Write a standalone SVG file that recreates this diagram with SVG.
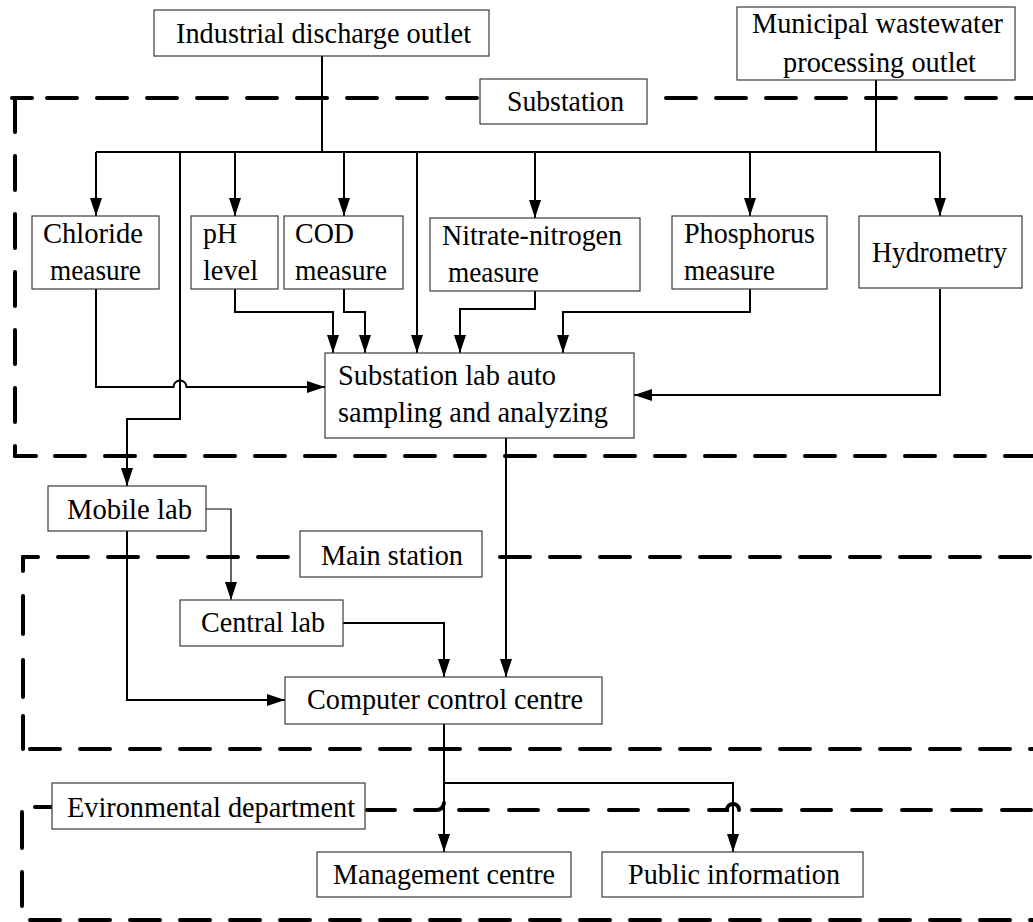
<svg xmlns="http://www.w3.org/2000/svg" width="1033" height="922" viewBox="0 0 1033 922">
  <style>
    .box { fill: #fff; stroke: #3a3a3a; stroke-width: 1.2; }
    .lbl { font-family: "Liberation Serif", "Times New Roman", serif; font-size: 30px; fill: #000; }
    .zone { fill: none; stroke: #000; stroke-width: 4; stroke-linecap: round; stroke-dasharray: 30 20; }
    .zonev { fill: none; stroke: #000; stroke-width: 4; stroke-linecap: round; stroke-dasharray: 34 24; }
    .hop { fill: none; stroke: #000; stroke-width: 4; stroke-linecap: round; }
    .wire { fill: none; stroke: #000; stroke-width: 2; marker-end: url(#tip); }
    .line { fill: none; stroke: #000; stroke-width: 2; }
    .thin { fill: none; stroke: #000; stroke-width: 1.2; marker-end: url(#tip); }
  </style>
  <defs>
    <marker id="tip" markerUnits="userSpaceOnUse" markerWidth="18" markerHeight="12" viewBox="0 0 18 12" refX="18" refY="6" orient="auto">
      <path d="M0 0 L18 6 L0 12 Z" fill="#000"/>
    </marker>
  </defs>

  <!-- zone boundaries -->
  <g id="zones">
    <!-- substation -->
    <path class="hop" d="M12 98 H32"/>
    <path class="zone" d="M47 98 H480"/>
    <path class="zone" d="M666 98 H1040"/>
    <path class="zonev" d="M15 98 V456"/>
    <path class="hop" d="M15 456 H36"/>
    <path class="zone" d="M55 456 H1040"/>

    <!-- main station -->
    <path class="hop" d="M23 557 H38"/>
    <path class="zone" d="M58 557 H300"/>
    <path class="zone" d="M500 557 H1040"/>
    <path class="zonev" d="M23 557 V749" style="stroke-dasharray:14 25 38 26 37 19 35"/>
    <path class="zone" d="M30 749 H1040"/>

    <!-- environmental department -->
    <path class="hop" d="M35 807 H52"/>
    <path class="hop" d="M367 810 H395"/>
    <path class="hop" d="M415 810 H436 Q443 810 444 803"/>
    <path class="zone" d="M459 810 H700" style="stroke-dasharray:29 21"/>
    <path class="hop" d="M709 810 H727 A6 6 0 0 1 739 810"/>
    <path class="zone" d="M752 810 H1040" style="stroke-dasharray:29 21"/>
    <path class="zonev" d="M22 812 V920" style="stroke-dasharray:36 24 34 100"/>
    <path class="zone" d="M30 920 H1040"/>
  </g>

  <!-- connectors -->
  <g id="connectors">
    <path class="line" d="M322 56 V152"/>
    <path class="line" d="M876 80 V152"/>
    <path class="line" d="M96 152 H940"/>
    <path class="wire" d="M96 152 V216"/>
    <path class="wire" d="M235 152 V216"/>
    <path class="wire" d="M344 152 V216"/>
    <path class="wire" d="M535 152 V218"/>
    <path class="wire" d="M750 152 V216"/>
    <path class="wire" d="M940 152 V216"/>
    <path class="wire" d="M417 152 V353"/>

    <path class="wire" d="M96 289 V387 H173.5 A6.5 6.5 0 0 1 186.5 387 H325"/>
    <path class="wire" d="M235 289 V312 H333 V353"/>
    <path class="wire" d="M344 289 V312 H365 V353"/>
    <path class="wire" d="M535 291 V309 H460 V353"/>
    <path class="wire" d="M750 289 V312 H563 V353"/>
    <path class="wire" d="M940 289 V395 H634"/>

    <path class="wire" d="M180 152 V419 H127 V486"/>
    <path class="wire" d="M506 438 V677"/>

    <path class="thin" d="M206 509 H231 V600"/>
    <path class="wire" d="M127 531 V700 H285"/>
    <path class="wire" d="M343 623 H444 V677"/>

    <path class="wire" d="M444 724 V852"/>
    <path class="wire" d="M444 783 H733 V852"/>
  </g>

  <!-- nodes -->
  <g id="industrial">
    <rect class="box" x="154" y="10" width="335" height="46"/>
    <text class="lbl" x="176" y="43" textLength="295" lengthAdjust="spacingAndGlyphs">Industrial discharge outlet</text>
  </g>
  <g id="municipal">
    <rect class="box" x="737" y="7" width="278" height="73"/>
    <text class="lbl" x="752" y="33" textLength="251" lengthAdjust="spacingAndGlyphs">Municipal wastewater</text>
    <text class="lbl" x="783" y="72" textLength="193" lengthAdjust="spacingAndGlyphs">processing outlet</text>
  </g>
  <g id="substation-label">
    <rect class="box" x="480" y="79" width="167" height="45"/>
    <text class="lbl" x="507" y="111" textLength="117" lengthAdjust="spacingAndGlyphs">Substation</text>
  </g>
  <g id="chloride">
    <rect class="box" x="32" y="216" width="127" height="73"/>
    <text class="lbl" x="43" y="243" textLength="100" lengthAdjust="spacingAndGlyphs">Chloride</text>
    <text class="lbl" x="50" y="280" textLength="91" lengthAdjust="spacingAndGlyphs">measure</text>
  </g>
  <g id="ph">
    <rect class="box" x="191" y="216" width="87" height="73"/>
    <text class="lbl" x="203" y="243" textLength="34" lengthAdjust="spacingAndGlyphs">pH</text>
    <text class="lbl" x="203" y="280" textLength="55" lengthAdjust="spacingAndGlyphs">level</text>
  </g>
  <g id="cod">
    <rect class="box" x="284" y="216" width="119" height="73"/>
    <text class="lbl" x="295" y="243" textLength="59" lengthAdjust="spacingAndGlyphs">COD</text>
    <text class="lbl" x="295" y="280" textLength="92" lengthAdjust="spacingAndGlyphs">measure</text>
  </g>
  <g id="nitrate">
    <rect class="box" x="430" y="218" width="210" height="73"/>
    <text class="lbl" x="442" y="245" textLength="180" lengthAdjust="spacingAndGlyphs">Nitrate-nitrogen</text>
    <text class="lbl" x="448" y="282" textLength="91" lengthAdjust="spacingAndGlyphs">measure</text>
  </g>
  <g id="phosphorus">
    <rect class="box" x="672" y="216" width="155" height="73"/>
    <text class="lbl" x="684" y="243" textLength="131" lengthAdjust="spacingAndGlyphs">Phosphorus</text>
    <text class="lbl" x="684" y="280" textLength="91" lengthAdjust="spacingAndGlyphs">measure</text>
  </g>
  <g id="hydrometry">
    <rect class="box" x="859" y="216" width="163" height="72"/>
    <text class="lbl" x="872" y="262" textLength="135" lengthAdjust="spacingAndGlyphs">Hydrometry</text>
  </g>
  <g id="substation-lab">
    <rect class="box" x="325" y="353" width="309" height="85"/>
    <text class="lbl" x="338" y="385" textLength="218" lengthAdjust="spacingAndGlyphs">Substation lab auto</text>
    <text class="lbl" x="338" y="422" textLength="270" lengthAdjust="spacingAndGlyphs">sampling and analyzing</text>
  </g>
  <g id="mobile-lab">
    <rect class="box" x="48" y="486" width="158" height="45"/>
    <text class="lbl" x="67" y="519" textLength="125" lengthAdjust="spacingAndGlyphs">Mobile lab</text>
  </g>
  <g id="main-station-label">
    <rect class="box" x="300" y="531" width="182" height="46"/>
    <text class="lbl" x="321" y="565" textLength="142" lengthAdjust="spacingAndGlyphs">Main station</text>
  </g>
  <g id="central-lab">
    <rect class="box" x="180" y="600" width="163" height="46"/>
    <text class="lbl" x="201" y="632" textLength="124" lengthAdjust="spacingAndGlyphs">Central lab</text>
  </g>
  <g id="control-centre">
    <rect class="box" x="285" y="677" width="317" height="47"/>
    <text class="lbl" x="307" y="709" textLength="276" lengthAdjust="spacingAndGlyphs">Computer control centre</text>
  </g>
  <g id="department-label">
    <rect class="box" x="52" y="783" width="313" height="46"/>
    <text class="lbl" x="67" y="817" textLength="288" lengthAdjust="spacingAndGlyphs">Evironmental department</text>
  </g>
  <g id="management">
    <rect class="box" x="317" y="852" width="254" height="45"/>
    <text class="lbl" x="333" y="884" textLength="222" lengthAdjust="spacingAndGlyphs">Management centre</text>
  </g>
  <g id="public">
    <rect class="box" x="602" y="852" width="261" height="45"/>
    <text class="lbl" x="628" y="884" textLength="212" lengthAdjust="spacingAndGlyphs">Public information</text>
  </g>
</svg>
